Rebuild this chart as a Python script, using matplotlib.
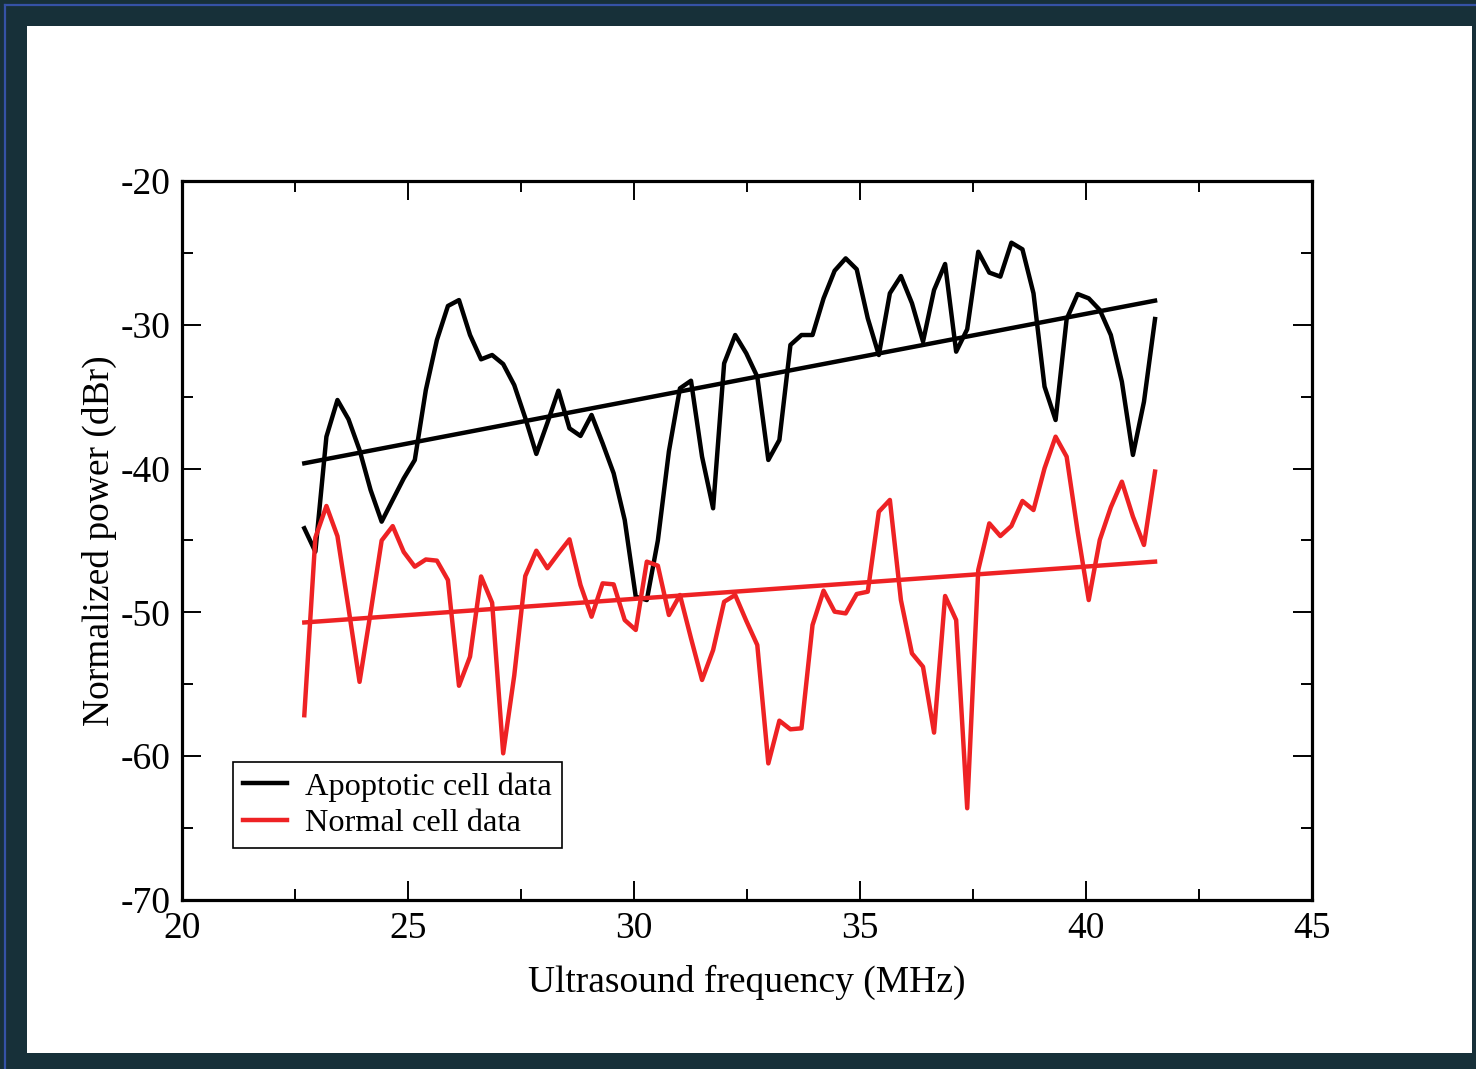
import numpy as np
import matplotlib
matplotlib.use("Agg")
import matplotlib.pyplot as plt
from matplotlib.patches import Rectangle
from matplotlib.lines import Line2D

plt.rcParams["axes.unicode_minus"] = False

# ---- data ----
freq_start, freq_end, n_points = 22.706, 41.527, 78
freq = np.linspace(freq_start, freq_end, n_points)

apoptotic = [-44.15, -45.78, -37.78, -35.23, -36.57, -38.71, -41.49, -43.69, -42.18, -40.68,
             -39.40, -34.53, -31.06, -28.69, -28.28, -30.71, -32.40, -32.10, -32.73, -34.19,
             -36.48, -38.98, -36.82, -34.58, -37.20, -37.73, -36.27, -38.24, -40.33, -43.57,
             -48.91, -49.14, -45.00, -38.80, -34.42, -33.89, -39.17, -42.76, -32.68, -30.71,
             -31.98, -33.61, -39.40, -38.01, -31.40, -30.71, -30.71, -28.16, -26.24, -25.38,
             -26.14, -29.55, -32.10, -27.81, -26.61, -28.50, -31.17, -27.58, -25.77, -31.87,
             -30.31, -24.92, -26.37, -26.65, -24.29, -24.75, -27.81, -34.30, -36.62, -29.60,
             -27.86, -28.16, -28.97, -30.71, -33.96, -39.05, -35.35, -29.60]

normal = [-57.15, -44.80, -42.60, -44.70, -49.70, -54.83, -50.00, -45.00, -44.00, -45.80,
          -46.82, -46.32, -46.40, -47.75, -55.10, -53.08, -47.50, -49.33, -59.80, -54.40,
          -47.47, -45.71, -46.93, -45.90, -44.92, -48.10, -50.30, -47.98, -48.05, -50.53,
          -51.22, -46.47, -46.75, -50.18, -48.79, -51.80, -54.70, -52.62, -49.26, -48.79,
          -50.58, -52.27, -60.50, -57.53, -58.13, -58.06, -50.88, -48.49, -49.95, -50.07,
          -48.72, -48.56, -43.00, -42.18, -49.14, -52.85, -53.78, -58.36, -48.86, -50.53,
          -63.62, -47.05, -43.81, -44.69, -43.99, -42.25, -42.88, -39.98, -37.78, -39.17,
          -44.39, -49.14, -44.96, -42.69, -40.91, -43.34, -45.31, -40.21]

trend_freq = [freq_start, freq_end]
trend_apoptotic = [-39.63, -28.32]
trend_normal = [-50.70, -46.47]

labels = ["Apoptotic cell data", "Normal cell data"]
x_ticks = [20, 25, 30, 35, 40, 45]
y_ticks = [-70, -60, -50, -40, -30, -20]

# ---- figure ----
W, H = 1476, 1069
fig = plt.figure(figsize=(W / 100, H / 100), dpi=100)
fig.patch.set_facecolor("#173039")
fig.patches.append(Rectangle((27 / W, 1 - 1053 / H), (1472 - 27) / W, (1053 - 26) / H,
                             transform=fig.transFigure, facecolor="white", edgecolor="none",
                             zorder=-10))
fig.lines.append(Line2D([5 / W, 1], [1 - 5 / H, 1 - 5 / H], transform=fig.transFigure,
                        color="#3552a6", lw=1.6, zorder=-5))
fig.lines.append(Line2D([5 / W, 5 / W], [0, 1 - 5 / H], transform=fig.transFigure,
                        color="#3552a6", lw=1.6, zorder=-5))

ax = fig.add_axes([182 / W, 1 - 900 / H, (1312 - 182) / W, (900 - 181) / H])
ax.set_zorder(5)
ax.set_facecolor("white")

serif = "Liberation Serif"
lw = 3.2
ax.plot(freq, apoptotic, color="black", lw=lw, label=labels[0])
ax.plot(freq, normal, color="#ee2224", lw=lw, label=labels[1])
ax.plot(trend_freq, trend_apoptotic, color="black", lw=lw)
ax.plot(trend_freq, trend_normal, color="#ee2224", lw=lw)

ax.set_xlim(20, 45)
ax.set_ylim(-70, -20)
ax.set_xticks(x_ticks)
ax.set_yticks(y_ticks)
ax.set_xticks(np.arange(22.5, 45, 5), minor=True)
ax.set_yticks(np.arange(-65, -20, 10), minor=True)
ax.tick_params(which="both", direction="in", top=True, right=True, width=1.4)
ax.tick_params(which="major", length=14, pad=8, labelsize=27)
ax.tick_params(which="minor", length=8)
for lab in ax.get_xticklabels() + ax.get_yticklabels():
    lab.set_fontfamily(serif)
for s in ax.spines.values():
    s.set_linewidth(2.3)

ax.set_xlabel("Ultrasound frequency (MHz)", fontsize=27, family=serif, labelpad=14)
ax.set_ylabel("Normalized power (dBr)", fontsize=27, family=serif, labelpad=3)

leg = ax.legend(loc="lower left", bbox_to_anchor=(0.045, 0.072), borderaxespad=0,
                prop={"family": serif, "size": 23.3}, fancybox=False, framealpha=1,
                edgecolor="black", handlelength=1.35, handletextpad=0.55,
                labelspacing=0.2, borderpad=0.32)
leg.get_frame().set_linewidth(1.2)

fig.savefig("out.png", dpi=100, facecolor=fig.get_facecolor())
